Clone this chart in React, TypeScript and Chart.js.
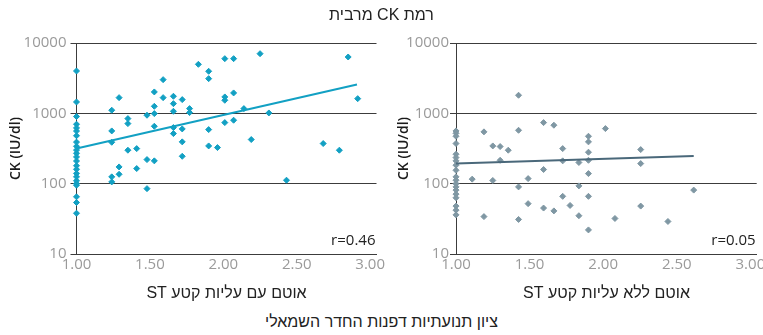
import React, { useEffect, useRef } from "react";
import { Chart, registerables } from "chart.js";

Chart.register(...registerables);

// ---------- data ----------
const chartTitle = "רמת CK מרבית";
const bottomTitle = "ציון תנועתיות דפנות החדר השמאלי";
const leftXTitle = "אוטם עם עליות קטע ST";
const rightXTitle = "אוטם ללא עליות קטע ST";
const yTitle = "CK (IU/dl)";

const xTicks = [1.0, 1.5, 2.0, 2.5, 3.0];
const yTicks = [10, 100, 1000, 10000];

// With ST elevation
const stX = [
  1, 1, 1, 1, 1, 1, 1, 1, 1, 1, 1, 1, 1, 1, 1, 1, 1, 1, 1, 1, 1, 1, 1,
  1.24, 1.24, 1.24, 1.24, 1.24,
  1.29, 1.29, 1.29,
  1.35, 1.35, 1.35,
  1.41, 1.41,
  1.48, 1.48, 1.48,
  1.53, 1.53, 1.53, 1.53, 1.53,
  1.59, 1.59,
  1.66, 1.66, 1.66, 1.66, 1.66,
  1.72, 1.72, 1.72, 1.72,
  1.77, 1.77,
  1.83,
  1.9, 1.9, 1.9, 1.9,
  1.96,
  2.01, 2.01, 2.01, 2.01,
  2.07, 2.07, 2.07,
  2.14, 2.19, 2.25, 2.31, 2.43, 2.68, 2.79, 2.85, 2.915,
];
const stY = [
  4000, 1450, 900, 700, 620, 560, 480, 390, 340, 300, 270, 240, 210, 180, 160, 140, 125, 110, 100, 95, 65, 54, 38,
  1107, 562, 388, 125, 106,
  1672, 173, 136,
  841, 714, 299,
  315, 164,
  940, 220, 85,
  2014, 1259, 991, 655, 211,
  3013, 1672,
  1748, 1374, 1069, 627, 515,
  1567, 600, 393, 245,
  1167, 1024,
  4977,
  3963, 3114, 587, 344,
  326,
  5988, 1711, 1534, 738,
  5988, 1950, 798,
  1167, 424, 7050, 1013, 112, 372, 299, 6324, 1618,
];
const stTrendX = [1.0, 2.91];
const stTrendY = [316, 2565];
const stR = "r=0.46";

// Without ST elevation
const noX = [
  1, 1, 1, 1, 1, 1, 1, 1, 1, 1, 1, 1, 1, 1, 1, 1, 1, 1, 1,
  1.11,
  1.19, 1.19,
  1.25, 1.25,
  1.3, 1.3,
  1.355,
  1.425, 1.425, 1.425, 1.425,
  1.49, 1.49,
  1.595, 1.595, 1.595,
  1.665, 1.665,
  1.725, 1.725, 1.725,
  1.775,
  1.835, 1.835, 1.835,
  1.9, 1.9, 1.9, 1.9, 1.9, 1.9, 1.9,
  2.015, 2.08,
  2.255, 2.255, 2.255,
  2.44, 2.615,
];
const noY = [
  562, 520, 472, 372, 262, 235, 211, 183, 155, 125, 112, 100, 90, 81, 71, 63, 48, 42, 36,
  116,
  545, 34,
  344, 111,
  337, 215,
  299,
  1807, 574, 90, 31,
  118, 52,
  738, 159, 45,
  678, 41,
  315, 211, 66,
  49,
  200, 93, 35,
  472, 393, 280, 215, 139, 66, 22,
  607, 32,
  305, 193, 48,
  29, 81,
];
const noTrendX = [1.0, 2.615];
const noTrendY = [194, 248];
const noR = "r=0.05";

// ---------- styles ----------
const GRID = "#3c3c3c";
const TICK = "#9a9a9a";
const HEB_FONT = "'Liberation Sans Narrow', 'Liberation Sans', sans-serif";

type PanelProps = {
  xs: number[];
  ys: number[];
  tx: number[];
  ty: number[];
  r: string;
  pointColor: string;
  lineColor: string;
  titlePad: number;
  tickPad: number;
  yWidth: number;
  rightPad: number;
};

function Panel(p: PanelProps) {
  const ref = useRef<HTMLCanvasElement | null>(null);
  useEffect(() => {
    if (!ref.current) return;
    const pts = p.xs.map((x, i) => ({ x, y: p.ys[i] }));
    const line = p.tx.map((x, i) => ({ x, y: p.ty[i] }));
    const rPlugin = {
      id: "rlabel",
      afterDraw(chart: any) {
        const { ctx, chartArea } = chart;
        ctx.save();
        ctx.font = "15px 'Open Sans'";
        ctx.fillStyle = "#222";
        ctx.textAlign = "right";
        ctx.textBaseline = "middle";
        ctx.fillText(p.r, chartArea.right - 1, chartArea.bottom - 13.5);
        ctx.restore();
      },
    };
    const chart = new Chart(ref.current, {
      type: "scatter",
      data: {
        datasets: [
          {
            data: line,
            showLine: true,
            borderColor: p.lineColor,
            borderWidth: 2,
            pointRadius: 0,
            clip: false,
            order: 0,
          } as any,
          {
            data: pts,
            pointStyle: "rectRot",
            pointRadius: 3,
            borderWidth: 1,
            backgroundColor: p.pointColor,
            borderColor: p.pointColor,
            clip: false,
            order: 1,
          } as any,
        ],
      },
      options: {
        responsive: false,
        animation: false,
        events: [],
        layout: { padding: { top: 43, left: 0, right: p.rightPad, bottom: 0 } },
        plugins: { legend: { display: false }, tooltip: { enabled: false } },
        scales: {
          x: {
            type: "linear",
            min: 1,
            max: 3.043,
            afterBuildTicks: (s: any) => {
              s.ticks = xTicks.map((v) => ({ value: v }));
            },
            afterFit: (s: any) => {
              s.height = 36;
            },
            ticks: {
              color: TICK,
              font: { family: "'Open Sans'", size: 15 },
              padding: 2,
              autoSkip: false,
              maxRotation: 0,
              callback: (v: any) => Number(v).toFixed(2),
            },
            grid: { display: false, drawTicks: false },
            border: { display: true, color: GRID, width: 1 },
          },
          y: {
            type: "logarithmic",
            min: 10,
            max: 10000,
            afterBuildTicks: (s: any) => {
              s.ticks = yTicks.map((v) => ({ value: v }));
            },
            afterFit: (s: any) => {
              s.width = p.yWidth;
            },
            ticks: {
              color: TICK,
              font: { family: "'Open Sans'", size: 15 },
              padding: p.tickPad,
              autoSkip: false,
              callback: (v: any) => String(v),
            },
            grid: {
              display: true,
              color: GRID,
              lineWidth: 1,
              drawTicks: true,
              tickLength: 6,
              tickColor: GRID,
            },
            border: { display: true, color: GRID, width: 1 },
            title: {
              display: true,
              text: yTitle,
              color: "#1a1a1a",
              font: { family: "'Open Sans'", size: 14, weight: "600" },
              padding: { top: p.titlePad, bottom: 0 },
            },
          },
        },
      },
      plugins: [rPlugin],
    });
    return () => chart.destroy();
  }, []);
  return <canvas ref={ref} width={400} height={290} style={{ width: 400, height: 290, display: "block" }} />;
}

const heb: React.CSSProperties = {
  position: "absolute",
  direction: "rtl",
  fontFamily: HEB_FONT,
  fontSize: 16,
  color: "#222",
  whiteSpace: "nowrap",
  transform: "translate(-50%, -50%)",
  lineHeight: "20px",
};

export default function App() {
  return (
    <div
      style={{
        position: "absolute",
        left: 0,
        top: 0,
        width: 763,
        height: 335,
        overflow: "hidden",
        background: "#fff",
      }}
    >
      <div style={{ position: "absolute", left: 0, top: 0 }}>
        <Panel
          xs={stX}
          ys={stY}
          tx={stTrendX}
          ty={stTrendY}
          r={stR}
          pointColor="#12a0c3"
          lineColor="#12a0c3"
          titlePad={7.5}
          tickPad={4}
          yWidth={76.5}
          rightPad={23.5}
        />
      </div>
      <div style={{ position: "absolute", left: 380, top: 0 }}>
        <Panel
          xs={noX}
          ys={noY}
          tx={noTrendX}
          ty={noTrendY}
          r={noR}
          pointColor="#7f97a3"
          lineColor="#4a687a"
          titlePad={16}
          tickPad={1}
          yWidth={76}
          rightPad={23.3}
        />
      </div>
      <div style={{ ...heb, left: 381.5, top: 15 }}>{chartTitle}</div>
      <div style={{ ...heb, left: 226.5, top: 292.5 }}>{leftXTitle}</div>
      <div style={{ ...heb, left: 606.5, top: 292.5 }}>{rightXTitle}</div>
      <div style={{ ...heb, left: 381.5, top: 322 }}>{bottomTitle}</div>
    </div>
  );
}
